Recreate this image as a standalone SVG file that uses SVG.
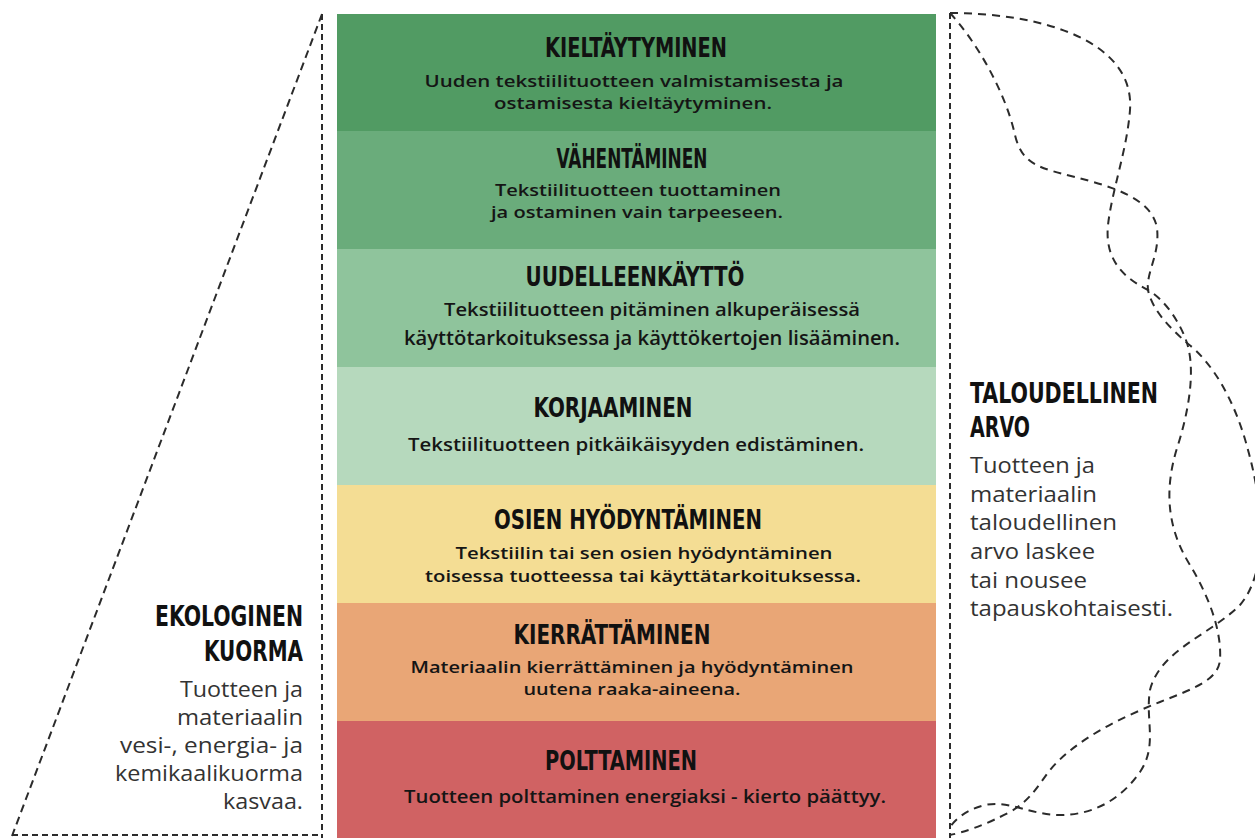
<svg xmlns="http://www.w3.org/2000/svg" width="1255" height="838" viewBox="0 0 1255 838">
<style>
.t{font-family:"DejaVu Sans Condensed","Liberation Sans Narrow","Liberation Sans",sans-serif;font-weight:bold;font-size:27px;fill:#111;text-anchor:middle}
.d{font-family:"Open Sans","Noto Sans","Liberation Sans",sans-serif;font-weight:600;font-size:17px;fill:#151515;text-anchor:middle}
.d1{font-size:18px}
.st{font-family:"DejaVu Sans Condensed","Liberation Sans Narrow","Liberation Sans",sans-serif;font-weight:bold;font-size:29px;fill:#111}
.sb{font-family:"Open Sans","Noto Sans","Liberation Sans",sans-serif;font-weight:400;font-size:22px;fill:#333}
.dash{fill:none;stroke:#2b2b2b;stroke-width:2}
.v{stroke-dasharray:6 4}
.g{stroke-dasharray:8 5}
.c{stroke-dasharray:8 6}
</style>
<rect width="1255" height="838" fill="#ffffff"/>

<g id="band-kieltaytyminen">
<rect x="337" y="14" width="599" height="117" fill="#519b63"/>
<text class="t" x="636" y="57" textLength="182" lengthAdjust="spacingAndGlyphs">KIELTÄYTYMINEN</text>
<text class="d" x="634" y="87" textLength="419" lengthAdjust="spacingAndGlyphs">Uuden tekstiilituotteen valmistamisesta ja</text>
<text class="d" x="633" y="109" textLength="278" lengthAdjust="spacingAndGlyphs">ostamisesta kieltäytyminen.</text>
</g>

<g id="band-vahentaminen">
<rect x="337" y="131" width="599" height="118" fill="#6aac7b"/>
<text class="t" x="632" y="168" textLength="151" lengthAdjust="spacingAndGlyphs">VÄHENTÄMINEN</text>
<text class="d" x="638" y="196" textLength="286" lengthAdjust="spacingAndGlyphs">Tekstiilituotteen tuottaminen</text>
<text class="d" x="637" y="218" textLength="292" lengthAdjust="spacingAndGlyphs">ja ostaminen vain tarpeeseen.</text>
</g>

<g id="band-uudelleenkaytto">
<rect x="337" y="249" width="599" height="118" fill="#8fc49c"/>
<text class="t" x="635" y="286" textLength="219" lengthAdjust="spacingAndGlyphs">UUDELLEENKÄYTTÖ</text>
<text class="d d1" x="652" y="316" textLength="416" lengthAdjust="spacingAndGlyphs">Tekstiilituotteen pitäminen alkuperäisessä</text>
<text class="d" x="652" y="345" textLength="496" lengthAdjust="spacingAndGlyphs" style="font-size:19px">käyttötarkoituksessa ja käyttökertojen lisääminen.</text>
</g>

<g id="band-korjaaminen">
<rect x="337" y="367" width="599" height="118" fill="#b6d9bd"/>
<text class="t" x="613" y="417" textLength="159" lengthAdjust="spacingAndGlyphs">KORJAAMINEN</text>
<text class="d d1" x="636" y="451" textLength="456" lengthAdjust="spacingAndGlyphs">Tekstiilituotteen pitkäikäisyyden edistäminen.</text>
</g>

<g id="band-osien-hyodyntaminen">
<rect x="337" y="485" width="599" height="118" fill="#f4dd94"/>
<text class="t" x="628" y="529" textLength="268" lengthAdjust="spacingAndGlyphs">OSIEN HYÖDYNTÄMINEN</text>
<text class="d" x="644" y="559" textLength="377" lengthAdjust="spacingAndGlyphs">Tekstiilin tai sen osien hyödyntäminen</text>
<text class="d" x="643" y="582" textLength="436" lengthAdjust="spacingAndGlyphs">toisessa tuotteessa tai käyttätarkoituksessa.</text>
</g>

<g id="band-kierrattaminen">
<rect x="337" y="603" width="599" height="118" fill="#e9a676"/>
<text class="t" x="612" y="644" textLength="197" lengthAdjust="spacingAndGlyphs">KIERRÄTTÄMINEN</text>
<text class="d" x="632" y="673" textLength="443" lengthAdjust="spacingAndGlyphs">Materiaalin kierrättäminen ja hyödyntäminen</text>
<text class="d" x="632" y="695" textLength="217" lengthAdjust="spacingAndGlyphs">uutena raaka-aineena.</text>
</g>

<g id="band-polttaminen">
<rect x="337" y="721" width="599" height="117" fill="#d06263"/>
<text class="t" x="621" y="770" textLength="152" lengthAdjust="spacingAndGlyphs">POLTTAMINEN</text>
<text class="d d1" x="645" y="803" textLength="482" lengthAdjust="spacingAndGlyphs">Tuotteen polttaminen energiaksi - kierto päättyy.</text>
</g>

<g id="label-ekologinen-kuorma">
<text class="st" x="303" y="626" text-anchor="end" textLength="148" lengthAdjust="spacingAndGlyphs">EKOLOGINEN</text>
<text class="st" x="303" y="661" text-anchor="end" textLength="99" lengthAdjust="spacingAndGlyphs">KUORMA</text>
<text class="sb" x="303" y="697" text-anchor="end" textLength="123" lengthAdjust="spacingAndGlyphs">Tuotteen ja</text>
<text class="sb" x="303" y="725" text-anchor="end" textLength="126" lengthAdjust="spacingAndGlyphs">materiaalin</text>
<text class="sb" x="303" y="753" text-anchor="end" textLength="183" lengthAdjust="spacingAndGlyphs">vesi-, energia- ja</text>
<text class="sb" x="303" y="781" text-anchor="end" textLength="188" lengthAdjust="spacingAndGlyphs">kemikaalikuorma</text>
<text class="sb" x="303" y="809" text-anchor="end" textLength="80" lengthAdjust="spacingAndGlyphs">kasvaa.</text>
</g>

<g id="label-taloudellinen-arvo">
<text class="st" x="970" y="403" textLength="188" lengthAdjust="spacingAndGlyphs">TALOUDELLINEN</text>
<text class="st" x="970" y="437" textLength="60" lengthAdjust="spacingAndGlyphs">ARVO</text>
<text class="sb" x="970" y="473" textLength="125" lengthAdjust="spacingAndGlyphs">Tuotteen ja</text>
<text class="sb" x="970" y="502" textLength="127" lengthAdjust="spacingAndGlyphs">materiaalin</text>
<text class="sb" x="970" y="530" textLength="147" lengthAdjust="spacingAndGlyphs">taloudellinen</text>
<text class="sb" x="970" y="559" textLength="125" lengthAdjust="spacingAndGlyphs">arvo laskee</text>
<text class="sb" x="970" y="588" textLength="117" lengthAdjust="spacingAndGlyphs">tai nousee</text>
<text class="sb" x="970" y="616" textLength="203" lengthAdjust="spacingAndGlyphs">tapauskohtaisesti.</text>
</g>

<g id="connectors">
<line class="dash v" x1="322" y1="14" x2="322" y2="838"/>
<line class="dash g" x1="322" y1="14" x2="12" y2="836"/>
<line class="dash v" x1="12" y1="835" x2="322" y2="835"/>
<line class="dash v" x1="950" y1="13" x2="950" y2="838"/>
<path class="dash c" d="M950,13 C1040,13 1135,40 1130,110 C1127,150 1112,190 1108,225 C1105,255 1118,275 1148,290 C1165,300 1180,322 1187,343 C1194,365 1192,400 1178,445 C1165,485 1165,525 1190,565 C1208,595 1222,630 1220,660 C1218,680 1195,688 1160,702 C1120,718 1075,740 1050,770 C1035,790 1030,800 1010,812 C985,825 965,832 950,835"/>
<path class="dash c" d="M950,13 C975,40 1005,90 1015,135 C1022,165 1040,168 1075,177 C1110,186 1152,198 1157,228 C1160,255 1146,272 1148,290 C1152,310 1170,328 1187,343 C1212,362 1235,400 1248,450 C1262,500 1270,570 1240,605 C1210,635 1160,650 1150,690 C1145,720 1158,745 1140,772 C1122,798 1095,815 1060,815 C1030,815 1010,800 985,805 C965,810 955,820 950,827"/>
</g>
</svg>
